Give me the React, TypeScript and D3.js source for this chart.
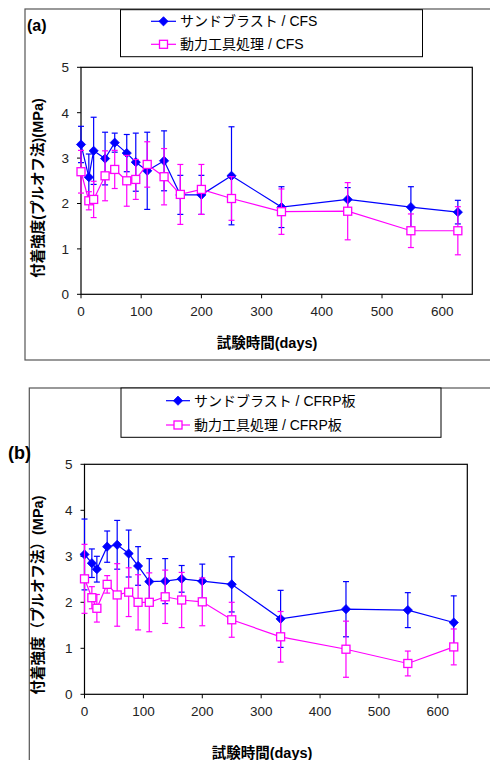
import React from "react";
import * as d3 from "d3";

const daysA = [0, 13, 21, 40, 56, 76, 91, 110, 138, 165, 200, 250, 333, 443, 548, 626];
const sandA = [3.30, 2.58, 3.16, 2.99, 3.34, 3.11, 2.91, 2.72, 2.94, 2.19, 2.19, 2.61, 1.92, 2.09, 1.92, 1.81];
const sandAErr = [0.40, 0.51, 0.74, 0.58, 0.21, 0.41, 0.64, 0.85, 0.66, 0.43, 0.43, 1.08, 0.45, 0.26, 0.45, 0.26];
const powerA = [2.70, 2.06, 2.09, 2.61, 2.75, 2.50, 2.53, 2.86, 2.59, 2.20, 2.31, 2.11, 1.82, 1.83, 1.40, 1.40];
const powerAErr = [0.47, 0.20, 0.40, 0.55, 0.42, 0.56, 0.44, 0.50, 0.62, 0.66, 0.55, 0.48, 0.50, 0.63, 0.37, 0.53];

const daysB = [0, 12.5, 21, 38.5, 55.5, 75, 91, 110, 137, 165, 200, 250, 333, 444, 549, 627];
const sandB = [3.04, 2.85, 2.72, 3.21, 3.25, 3.06, 2.79, 2.45, 2.46, 2.51, 2.46, 2.39, 1.64, 1.85, 1.83, 1.56];
const sandBErr = [0.77, 0.31, 0.28, 0.34, 0.53, 0.51, 0.42, 0.50, 0.49, 0.29, 0.37, 0.60, 0.62, 0.60, 0.38, 0.58];
const powerB = [2.51, 2.10, 1.87, 2.39, 2.16, 2.22, 2.00, 2.00, 2.12, 2.05, 2.01, 1.62, 1.25, 0.98, 0.67, 1.03];
const powerBErr = [0.75, 0.24, 0.30, 0.19, 0.68, 0.53, 0.60, 0.64, 0.58, 0.60, 0.52, 0.38, 0.55, 0.61, 0.27, 0.39];

const xTicks = [0, 100, 200, 300, 400, 500, 600];
const yTicks = [0, 1, 2, 3, 4, 5];

const legendA = ["サンドブラスト / CFS", "動力工具処理 / CFS"];
const legendB = ["サンドブラスト / CFRP板", "動力工具処理 / CFRP板"];
const yLabelA = "付着強度(プルオフ法)(MPa)";
const yLabelB = "付着強度（プルオフ法）(MPa)";
const xLabel = "試験時間(days)";

const BLUE = "#0000ff";
const MAG = "#ff00ff";
const FONT = "'Liberation Sans', Arial, 'Noto Sans CJK JP', sans-serif";

type PanelProps = {
  tag: string;
  frame: { x: number; y: number; h: number };
  plot: { l: number; t: number; r: number; b: number };
  legend: { x: number; y: number; w: number; h: number; rows: number[]; lx: number; tx: number };
  labels: string[];
  tagPos: { x: number; y: number; size: number };
  yLabel: string;
  yLabelPos: { x: number; y: number };
  xTitlePos: { x: number; y: number };
  days: number[];
  s1: number[];
  e1: number[];
  s2: number[];
  e2: number[];
};

function Diamond({ x, y }: { x: number; y: number }) {
  const r = 4.6;
  return <path d={`M${x},${y - r}L${x + r},${y}L${x},${y + r}L${x - r},${y}Z`} fill={BLUE} stroke={BLUE} strokeWidth={0.8} />;
}
function Square({ x, y }: { x: number; y: number }) {
  const r = 4;
  return <rect x={x - r} y={y - r} width={2 * r} height={2 * r} fill="#fff" stroke={MAG} strokeWidth={1.3} />;
}

function Panel(p: PanelProps) {
  const xs = d3.scaleLinear().domain([0, 650]).range([p.plot.l, p.plot.r]);
  const ys = d3.scaleLinear().domain([0, 5]).range([p.plot.b, p.plot.t]);
  const line = d3.line<number>().x((_, i) => xs(p.days[i])).y((v) => ys(v));
  const errs = (vals: number[], err: number[], color: string) =>
    vals.map((v, i) => {
      const x = xs(p.days[i]);
      const y0 = ys(v - err[i]);
      const y1 = ys(v + err[i]);
      return (
        <g key={i} stroke={color} strokeWidth={1.2}>
          <line x1={x} x2={x} y1={y0} y2={y1} />
          <line x1={x - 3} x2={x + 3} y1={y0} y2={y0} />
          <line x1={x - 3} x2={x + 3} y1={y1} y2={y1} />
        </g>
      );
    });
  return (
    <g fontFamily={FONT}>
      <rect x={p.frame.x} y={p.frame.y} width={600} height={p.frame.h} fill="#fff" stroke="#555" strokeWidth={1.2} />
      <text x={p.tagPos.x} y={p.tagPos.y} fontSize={p.tagPos.size} fontWeight="bold" fill="#000">{p.tag}</text>
      <rect x={p.legend.x} y={p.legend.y} width={p.legend.w} height={p.legend.h} fill="#fff" stroke="#000" strokeWidth={1} />
      {p.labels.map((lab, i) => {
        const y = p.legend.rows[i];
        const cx = (p.legend.lx + p.legend.tx - 4) / 2;
        return (
          <g key={i}>
            <line x1={p.legend.lx} x2={p.legend.tx - 4} y1={y} y2={y} stroke={i === 0 ? BLUE : MAG} strokeWidth={1.2} />
            {i === 0 ? <Diamond x={cx} y={y} /> : <Square x={cx} y={y} />}
            <text x={p.legend.tx} y={y} dy="0.36em" fontSize={14} fill="#000">{lab}</text>
          </g>
        );
      })}
      <rect x={p.plot.l} y={p.plot.t} width={p.plot.r - p.plot.l} height={p.plot.b - p.plot.t} fill="#fff" stroke="#000" strokeWidth={1.2} />
      {yTicks.map((t) => (
        <g key={"y" + t}>
          <line x1={p.plot.l - 4} x2={p.plot.l} y1={ys(t)} y2={ys(t)} stroke="#000" />
          <text x={p.plot.l - 12} y={ys(t)} dy="0.36em" textAnchor="end" fontSize={13.5} fill="#222">{t}</text>
        </g>
      ))}
      {xTicks.map((t) => (
        <g key={"x" + t}>
          <line x1={xs(t)} x2={xs(t)} y1={p.plot.b} y2={p.plot.b + 4} stroke="#000" />
          <text x={xs(t)} y={p.plot.b + 17} dy="0.36em" textAnchor="middle" fontSize={13.5} fill="#222">{t}</text>
        </g>
      ))}
      <text transform={`translate(${p.yLabelPos.x},${p.yLabelPos.y}) rotate(-90)`} textAnchor="middle" dy="0.36em" fontSize={14.5} fontWeight="bold" fill="#000">{p.yLabel}</text>
      <text x={p.xTitlePos.x} y={p.xTitlePos.y} textAnchor="middle" dy="0.36em" fontSize={14.5} fontWeight="bold" fill="#000">{xLabel}</text>
      {errs(p.s1, p.e1, BLUE)}
      <path d={line(p.s1) || ""} fill="none" stroke={BLUE} strokeWidth={1.2} />
      {p.s1.map((v, i) => <Diamond key={i} x={xs(p.days[i])} y={ys(v)} />)}
      {errs(p.s2, p.e2, MAG)}
      <path d={line(p.s2) || ""} fill="none" stroke={MAG} strokeWidth={1.2} />
      {p.s2.map((v, i) => <Square key={i} x={xs(p.days[i])} y={ys(v)} />)}
    </g>
  );
}

export default function App() {
  return (
    <svg width={490} height={760} style={{ position: "absolute", left: 0, top: 0, background: "#fff" }}>
      <rect width={490} height={760} fill="#fff" />
      <Panel
        tag="(a)"
        frame={{ x: 25, y: 9, h: 351 }}
        plot={{ l: 81, t: 67.3, r: 472.3, b: 294.3 }}
        legend={{ x: 120.5, y: 9.7, w: 302, h: 47, rows: [21.3, 44.3], lx: 151, tx: 180 }}
        labels={legendA}
        tagPos={{ x: 27, y: 31, size: 16 }}
        yLabel={yLabelA}
        yLabelPos={{ x: 38, y: 188 }}
        xTitlePos={{ x: 267, y: 343 }}
        days={daysA}
        s1={sandA}
        e1={sandAErr}
        s2={powerA}
        e2={powerAErr}
      />
      <Panel
        tag="(b)"
        frame={{ x: 29.3, y: 388, h: 400 }}
        plot={{ l: 84.5, t: 464.3, r: 467.3, b: 694.3 }}
        legend={{ x: 121, y: 388, w: 320, h: 49.3, rows: [400.7, 425], lx: 166, tx: 194 }}
        labels={legendB}
        tagPos={{ x: 8, y: 459, size: 18 }}
        yLabel={yLabelB}
        yLabelPos={{ x: 38, y: 595 }}
        xTitlePos={{ x: 262, y: 753 }}
        days={daysB}
        s1={sandB}
        e1={sandBErr}
        s2={powerB}
        e2={powerBErr}
      />
    </svg>
  );
}
